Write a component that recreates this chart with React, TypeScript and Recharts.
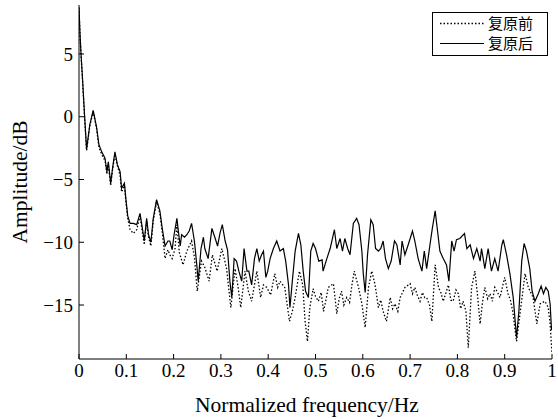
import { LineChart, Line, XAxis, YAxis, Legend, Label } from 'recharts';

// 复原后 (solid)
const solidFreq = [
  0, 0.002, 0.004, 0.007, 0.011, 0.016, 0.023, 0.03, 0.037, 0.042, 0.048, 0.055, 0.059, 0.062, 0.067,
  0.071, 0.076, 0.081, 0.087, 0.09, 0.096, 0.099, 0.103, 0.108, 0.115, 0.122, 0.129, 0.134, 0.138, 0.143,
  0.147, 0.152, 0.157, 0.164, 0.171, 0.176, 0.182, 0.188, 0.192, 0.197, 0.201, 0.207, 0.21, 0.214, 0.217,
  0.223, 0.228, 0.233, 0.238, 0.244, 0.249, 0.252, 0.258, 0.263, 0.266, 0.273, 0.281, 0.288, 0.293, 0.298,
  0.303, 0.309, 0.314, 0.319, 0.323, 0.328, 0.333, 0.338, 0.344, 0.349, 0.355, 0.359, 0.365, 0.371, 0.376,
  0.381, 0.386, 0.39, 0.395, 0.399, 0.404, 0.411, 0.418, 0.425, 0.432, 0.437, 0.443, 0.446, 0.451, 0.457,
  0.464, 0.469, 0.474, 0.479, 0.485, 0.49, 0.495, 0.5, 0.507, 0.514, 0.516, 0.524, 0.531, 0.54, 0.545,
  0.552, 0.557, 0.562, 0.568, 0.573, 0.58, 0.587, 0.592, 0.598, 0.601, 0.605, 0.61, 0.617, 0.622, 0.627,
  0.633, 0.638, 0.643, 0.648, 0.654, 0.66, 0.667, 0.672, 0.679, 0.683, 0.689, 0.696, 0.705, 0.71, 0.717,
  0.725, 0.73, 0.735, 0.742, 0.747, 0.753, 0.758, 0.763, 0.77, 0.777, 0.782, 0.788, 0.793, 0.798, 0.805,
  0.815, 0.82, 0.827, 0.834, 0.841, 0.848, 0.851, 0.858, 0.865, 0.872, 0.879, 0.886, 0.894, 0.897, 0.904,
  0.911, 0.918, 0.925, 0.93, 0.936, 0.941, 0.946, 0.953, 0.958, 0.964, 0.971, 0.977, 0.982, 0.987, 0.992,
  0.996, 0.999,
];
const solidAmp = [
  8.7, 6.7, 5.2, 3.3, 0.6, -2.6, -0.6, 0.5, -0.8, -2.2, -2.8, -3.3, -4.4, -3.6, -5.3,
  -4.1, -2.8, -3.8, -4.4, -5.7, -5.3, -6.5, -7.9, -8.5, -8.5, -8.6, -7.7, -8.9, -9.9, -8.1,
  -9.4, -10.0, -8.1, -6.6, -7.5, -8.9, -10.3, -9.9, -9.9, -10.6, -9.4, -8.1, -9.1, -10.3, -9.4,
  -9.6, -9.4, -9.1, -8.5, -9.9, -11.8, -13.1, -10.5, -9.6, -10.5, -11.3, -8.9, -9.7, -10.3, -9.3,
  -8.6, -9.9, -10.6, -13.1, -14.4, -11.3, -11.5, -12.3, -13.1, -10.5, -12.3, -12.3, -13.4, -11.3, -10.5,
  -11.5, -11.0, -10.7, -12.8, -12.3, -11.3, -10.5, -9.9, -10.7, -10.5, -11.5, -13.4, -15.2, -13.1, -10.7,
  -9.3, -10.2, -12.3, -13.9, -14.4, -10.7, -10.1, -10.5, -11.5, -11.4, -12.3, -11.3, -10.5, -9.0, -10.5,
  -9.7, -10.7, -9.7, -10.5, -11.0, -8.5, -8.1, -8.6, -10.7, -12.5, -14.0, -11.0, -8.2, -8.6, -10.5,
  -10.7, -10.5, -9.9, -11.3, -12.1, -11.5, -9.9, -10.2, -11.8, -9.9, -11.0, -10.2, -9.1, -9.9, -11.3,
  -12.3, -10.7, -12.1, -10.2, -8.9, -7.5, -9.1, -10.7, -11.3, -11.8, -13.1, -9.9, -10.7, -9.8, -9.7,
  -9.3, -10.5, -10.2, -11.3, -10.5, -11.5, -10.5, -12.1, -10.5, -12.3, -11.3, -12.3, -10.2, -9.8, -11.0,
  -12.5, -14.4, -17.6, -15.5, -11.5, -10.1, -10.7, -12.1, -13.9, -14.7, -14.1, -13.5, -14.1, -13.6, -13.9,
  -14.9, -17.0,
];

// 复原前 (dotted)
const dottedFreq = [
  0, 0.002, 0.004, 0.007, 0.011, 0.016, 0.023, 0.03, 0.037, 0.042, 0.048, 0.055, 0.059, 0.062, 0.067,
  0.071, 0.076, 0.081, 0.087, 0.09, 0.096, 0.099, 0.103, 0.108, 0.115, 0.122, 0.129, 0.134, 0.138, 0.143,
  0.147, 0.152, 0.157, 0.164, 0.171, 0.176, 0.182, 0.188, 0.192, 0.197, 0.203, 0.207, 0.212, 0.22, 0.228,
  0.238, 0.244, 0.25, 0.259, 0.266, 0.275, 0.282, 0.292, 0.302, 0.312, 0.321, 0.33, 0.336, 0.342, 0.351,
  0.358, 0.365, 0.376, 0.384, 0.39, 0.397, 0.405, 0.414, 0.42, 0.425, 0.435, 0.445, 0.451, 0.457, 0.466,
  0.473, 0.478, 0.483, 0.488, 0.495, 0.5, 0.506, 0.512, 0.517, 0.522, 0.527, 0.538, 0.545, 0.55, 0.555,
  0.56, 0.566, 0.572, 0.577, 0.582, 0.591, 0.598, 0.605, 0.612, 0.619, 0.626, 0.633, 0.638, 0.643, 0.65,
  0.658, 0.663, 0.668, 0.674, 0.679, 0.689, 0.7, 0.705, 0.71, 0.716, 0.721, 0.726, 0.731, 0.735, 0.741,
  0.746, 0.753, 0.76, 0.765, 0.77, 0.776, 0.781, 0.786, 0.791, 0.797, 0.802, 0.807, 0.812, 0.818, 0.823,
  0.83, 0.837, 0.842, 0.848, 0.853, 0.858, 0.864, 0.869, 0.874, 0.879, 0.885, 0.89, 0.9, 0.907, 0.912,
  0.917, 0.925, 0.934, 0.943, 0.95, 0.96, 0.968, 0.975, 0.985, 0.992, 0.996, 1.0,
];
const dottedAmp = [
  8.7, 6.6, 5.1, 3.2, 0.5, -2.7, -0.7, 0.4, -0.9, -2.4, -3.0, -3.5, -4.6, -3.8, -5.5,
  -4.2, -3.0, -3.9, -4.7, -6.0, -5.5, -6.7, -8.1, -9.0, -9.3, -9.0, -7.9, -9.2, -10.2, -8.3,
  -9.6, -10.3, -8.3, -6.8, -7.7, -9.2, -11.3, -10.6, -11.0, -11.3, -10.5, -8.6, -10.8, -11.8, -10.7,
  -9.9, -11.2, -13.9, -11.5, -12.0, -13.1, -11.0, -12.3, -10.5, -12.1, -15.2, -12.1, -13.5, -15.2, -12.3,
  -13.9, -14.7, -12.3, -14.4, -13.4, -13.6, -14.2, -12.5, -13.6, -13.1, -13.6, -16.3, -15.5, -14.4, -12.3,
  -13.4, -16.3, -17.9, -15.2, -13.7, -14.3, -14.7, -14.0, -15.5, -14.6, -13.6, -13.3, -15.7, -14.5, -13.9,
  -15.0, -14.4, -14.8, -13.4, -12.3, -13.6, -14.9, -16.8, -13.6, -12.3, -13.4, -15.2, -14.6, -15.5, -16.3,
  -14.4, -15.3, -14.9, -15.5, -14.4, -13.6, -13.3, -14.1, -13.6, -14.3, -14.7, -14.0, -14.4, -14.4, -15.0,
  -16.3, -11.8, -13.6, -14.0, -14.7, -14.0, -13.4, -14.6, -14.7, -13.8, -14.1, -15.3, -14.7, -15.5, -18.4,
  -13.6, -12.3, -14.0, -16.5, -14.8, -13.6, -14.5, -14.1, -14.7, -13.6, -14.0, -14.4, -12.8, -14.1, -14.6,
  -15.5, -17.9, -15.2, -12.5, -13.6, -14.4, -16.5, -14.9, -14.7, -15.2, -16.5, -18.9,
];

const freqTicks = [0, 0.1, 0.2, 0.3, 0.4, 0.5, 0.6, 0.7, 0.8, 0.9, 1];
const ampTicks = [-15, -10, -5, 0, 5];
const seriesNames = ['复原前', '复原后'];

const solidData = solidFreq.map((f, i) => ({ f, amp: solidAmp[i] }));
const dottedData = dottedFreq.map((f, i) => ({ f, amp: dottedAmp[i] }));

const FONT = '"Liberation Serif", "DejaVu Serif", serif';
const CJK = '"Noto Sans CJK SC", sans-serif';
const TICK = 5;

const fmtNum = (v: number) => String(v).replace('-', '\u2212');

const serif = (size: number) => ({ fontFamily: FONT, fontSize: size, fill: '#000' });

const BottomTick = ({ x, y, payload }: any) => (
  <g>
    <line x1={x} x2={x} y1={y - 5} y2={y - 5 - TICK} stroke="#000" />
    <text x={x} y={y} dy="0.71em" textAnchor="middle" style={serif(19)}>
      {fmtNum(payload.value)}
    </text>
  </g>
);

const TopTick = ({ x, y }: any) => <line x1={x} x2={x} y1={y} y2={y + TICK} stroke="#000" />;

const LeftTick = ({ x, y, payload }: any) => (
  <g>
    <line x1={x + 6} x2={x + 6 + TICK} y1={y} y2={y} stroke="#000" />
    <text x={x} y={y} dy="0.355em" textAnchor="end" style={serif(19)}>
      {fmtNum(payload.value)}
    </text>
  </g>
);

const RightTick = ({ x, y }: any) => <line x1={x} x2={x - TICK} y1={y} y2={y} stroke="#000" />;

const renderLegend = () => (
  <svg width={116} height={44}>
    <rect x={0.5} y={0.5} width={115} height={43} fill="#fff" stroke="#000" />
    <line x1={8} x2={52} y1={11.5} y2={11.5} stroke="#000" strokeWidth={1.3} strokeDasharray="1.5 2" />
    <text x={56} y={11.5} dy="0.36em" style={{ fontFamily: CJK, fontSize: 15, fill: '#000' }}>
      {seriesNames[0]}
    </text>
    <line x1={8} x2={52} y1={31.5} y2={31.5} stroke="#000" strokeWidth={1.2} />
    <text x={56} y={31.5} dy="0.36em" style={{ fontFamily: CJK, fontSize: 15, fill: '#000' }}>
      {seriesNames[1]}
    </text>
  </svg>
);

export default function App() {
  return (
    <div style={{ position: 'absolute', left: 0, top: 0, background: '#fff', fontFamily: FONT }}>
      <LineChart width={558} height={419} margin={{ top: 5, right: 6, bottom: 0, left: 0 }}>
        <XAxis
          xAxisId="b"
          type="number"
          dataKey="f"
          domain={[0, 1]}
          ticks={freqTicks}
          interval={0}
          height={60}
          tickSize={0}
          tickMargin={5}
          tickLine={false}
          tick={<BottomTick />}
          axisLine={{ stroke: '#000' }}
          allowDataOverflow
        >
          <Label
            content={() => (
              <text x={307} y={412} textAnchor="middle" style={serif(21.5)}>
                Normalized frequency/Hz
              </text>
            )}
          />
        </XAxis>
        <XAxis
          xAxisId="t"
          orientation="top"
          type="number"
          dataKey="f"
          domain={[0, 1]}
          ticks={freqTicks}
          interval={0}
          height={0}
          tickSize={0}
          tickMargin={0}
          tickLine={false}
          tick={<TopTick />}
          axisLine={{ stroke: '#000' }}
          allowDataOverflow
        />
        <YAxis
          yAxisId="l"
          type="number"
          domain={[-19.3, 8.9]}
          ticks={ampTicks}
          interval={0}
          width={79}
          tickSize={0}
          tickMargin={6}
          tickLine={false}
          tick={<LeftTick />}
          axisLine={{ stroke: '#000' }}
          allowDataOverflow
        >
          <Label
            content={() => (
              <text
                x={19}
                y={182}
                transform="rotate(-90 19 182)"
                textAnchor="middle"
                dy="0.36em"
                style={serif(21.5)}
              >
                Amplitude/dB
              </text>
            )}
          />
        </YAxis>
        <YAxis
          yAxisId="r"
          orientation="right"
          type="number"
          domain={[-19.3, 8.9]}
          ticks={ampTicks}
          interval={0}
          width={0}
          tickSize={0}
          tickMargin={0}
          tickLine={false}
          tick={<RightTick />}
          axisLine={{ stroke: '#000' }}
          allowDataOverflow
        />
        <Legend
          layout="vertical"
          align="center"
          verticalAlign="middle"
          content={renderLegend}
          wrapperStyle={{ left: 432, top: 12, right: 'auto', bottom: 'auto', width: 116, height: 44 }}
        />
        <Line
          xAxisId="b"
          yAxisId="l"
          data={dottedData}
          dataKey="amp"
          name={seriesNames[0]}
          stroke="#000"
          strokeWidth={1.3}
          strokeDasharray="1.5 2"
          dot={false}
          type="linear"
          isAnimationActive={false}
        />
        <Line
          xAxisId="b"
          yAxisId="l"
          data={solidData}
          dataKey="amp"
          name={seriesNames[1]}
          stroke="#000"
          strokeWidth={1.2}
          dot={false}
          type="linear"
          isAnimationActive={false}
        />
      </LineChart>
    </div>
  );
}
